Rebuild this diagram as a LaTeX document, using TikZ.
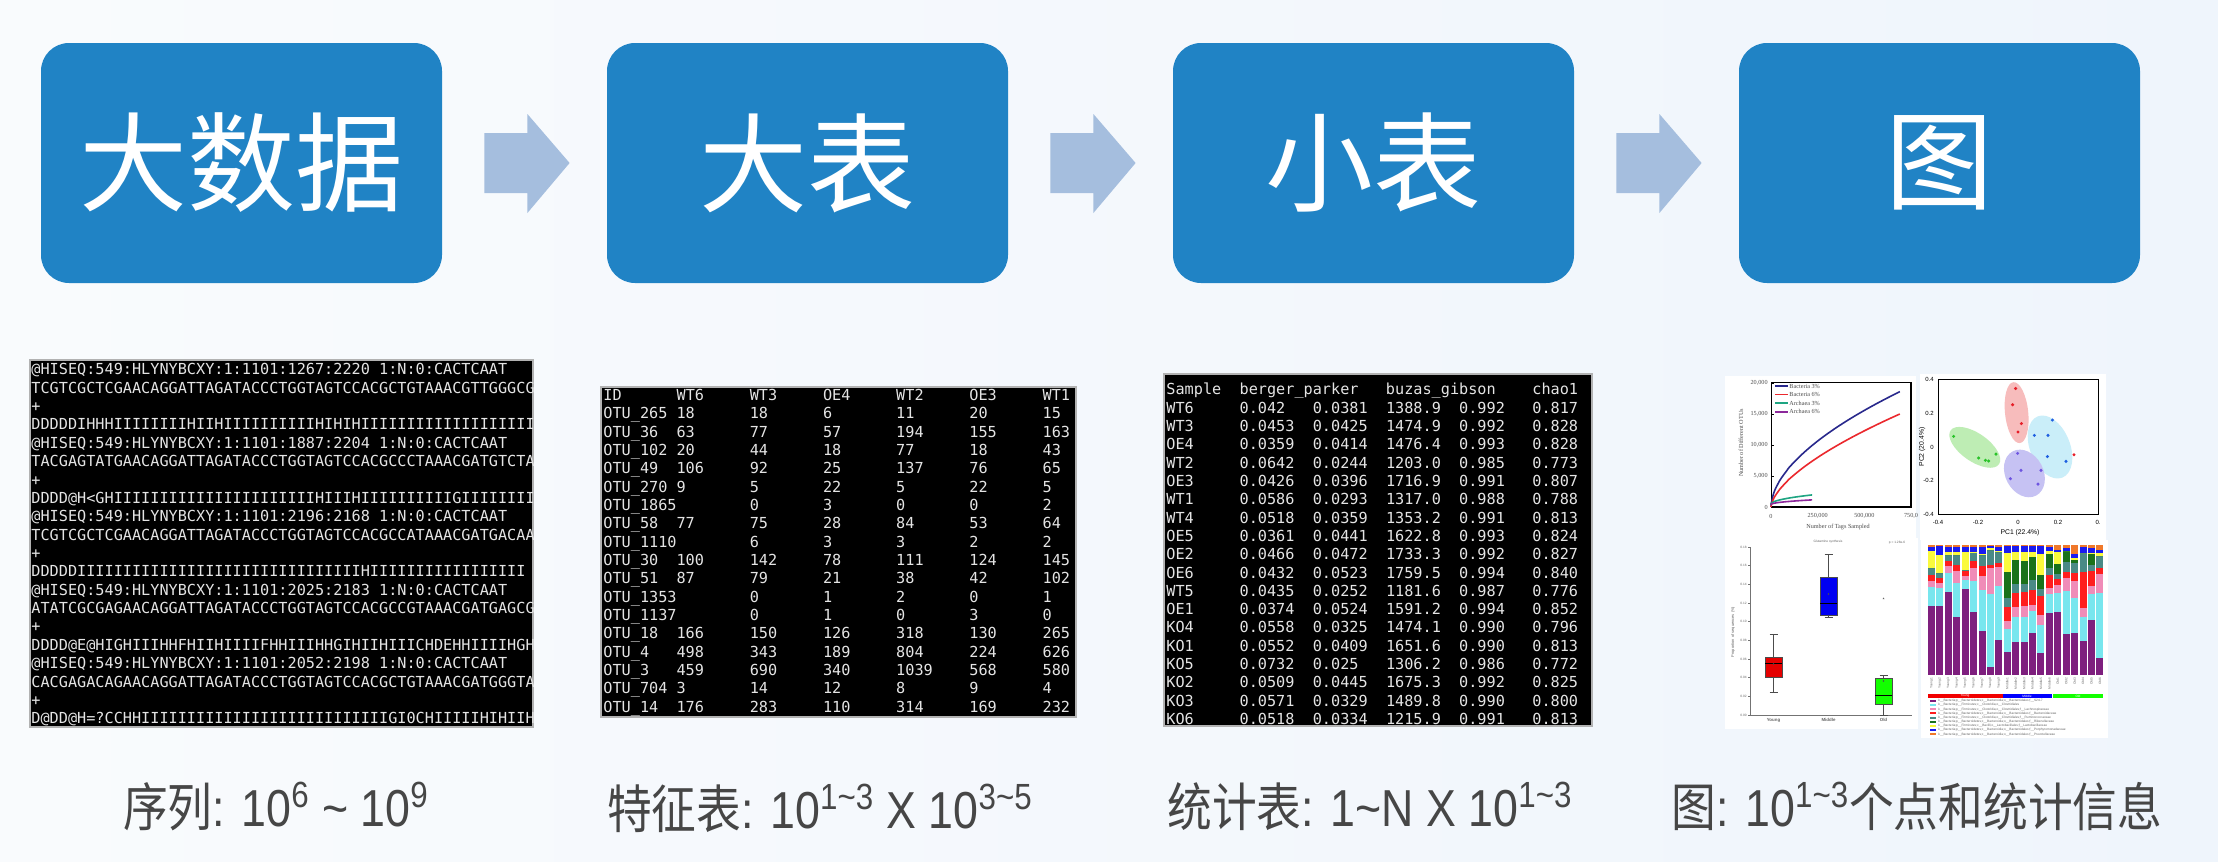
\documentclass[tikz,border=0pt]{standalone}
\usepackage{fontspec}
\setmainfont{Liberation Sans}
\newfontfamily\cjk{Noto Sans CJK SC}
\newfontfamily\labfont[FakeStretch=0.86]{Liberation Sans}
\newfontfamily\labcjk[FakeStretch=0.86]{Noto Sans CJK SC}
\newfontfamily\mono{DejaVu Sans Mono}
\newfontfamily\tms{Liberation Serif}
\usetikzlibrary{calc}
\definecolor{bgA}{RGB}{249,251,253}
\definecolor{bgB}{RGB}{239,245,252}
\definecolor{boxblue}{RGB}{32,131,197}
\definecolor{arrowblue}{RGB}{165,190,222}
\definecolor{labgray}{RGB}{70,70,70}
\definecolor{termtext}{RGB}{228,228,228}
\definecolor{cnavy}{RGB}{40,40,140}
\definecolor{cred}{RGB}{235,40,45}
\definecolor{cteal}{RGB}{30,165,130}
\definecolor{cviolet}{RGB}{140,40,155}
\definecolor{pRedF}{RGB}{247,188,188}
\definecolor{pGreenF}{RGB}{190,237,180}
\definecolor{pBlueF}{RGB}{202,238,249}
\definecolor{pPurF}{RGB}{198,194,243}
\definecolor{pRed}{RGB}{230,30,40}
\definecolor{pGreen}{RGB}{40,195,40}
\definecolor{pBlue}{RGB}{30,95,225}
\definecolor{pPur}{RGB}{110,85,225}
\definecolor{sPur}{RGB}{126,31,126}
\definecolor{sCyan}{RGB}{120,230,238}
\definecolor{sPink}{RGB}{240,140,184}
\definecolor{sRed}{RGB}{255,30,30}
\definecolor{sTeal}{RGB}{74,138,134}
\definecolor{sGreen}{RGB}{26,114,26}
\definecolor{sYel}{RGB}{250,250,60}
\definecolor{sBlue}{RGB}{26,26,240}
\definecolor{sOrange}{RGB}{240,120,42}
\newcommand\tc[1]{\makebox[36.6pt][l]{#1}}
\newcommand\barseg[4]{\fill[#1] (#2,{535+#3/3}) rectangle ({#2+7},{535+#4/3});}
\tikzset{
  bigbox/.style={fill=boxblue, rounded corners=14pt, minimum width=200.5pt, minimum height=120pt, inner sep=0pt,
    text=white, font=\cjk\fontsize{54pt}{60pt}\selectfont},
  flowarrow/.style={fill=arrowblue, draw=none},
  botlab/.style={anchor=base, inner sep=0pt, text=labgray, font=\labfont\fontsize{26pt}{30pt}\selectfont},
  term/.style={fill=black, draw=gray!60, line width=0.6pt},
  tline/.style={anchor=base west, inner sep=0pt, text=termtext, font=\mono\fontsize{7.6pt}{9pt}\selectfont},
  tiny/.style={inner sep=0pt, font=\fontsize{3pt}{3.5pt}\selectfont},
  tinyserif/.style={inner sep=0pt, font=\tms\fontsize{3.1pt}{3.5pt}\selectfont, text=black!70},
  micro/.style={inner sep=0pt, font=\fontsize{1.6pt}{1.8pt}\selectfont, text=black!60},
  panel/.style={fill=white, draw=none}
}
\begin{document}
\begin{tikzpicture}[x=0.5pt,y=-0.5pt]
\useasboundingbox (0,0) rectangle (2218,862);
\shade[left color=bgA, right color=bgB] (0,0) rectangle (2218,862);

% ---- top flow boxes
\node[bigbox] (b1) at (241.5,163) {大数据};
\node[bigbox] (b2) at (807.5,163) {大表};
\node[bigbox] (b3) at (1373.5,163) {小表};
\node[bigbox] (b4) at (1939.5,163) {图};
\foreach \a/\b in {b1/b2,b2/b3,b3/b4}{
  \fill[flowarrow] ($(\a.east)+(42,-30)$) -- ($(\a.east)+(85,-30)$) -- ($(\a.east)+(85,-49)$)
     -- ($(\b.west)+(-37,0)$) -- ($(\a.east)+(85,50)$) -- ($(\a.east)+(85,30)$) -- ($(\a.east)+(42,30)$) -- cycle;
}

% ---- terminal 1 : reads
\filldraw[term] (30,360) rectangle (533,727);
\begin{scope}
\clip (30,360) rectangle (533,727);
\foreach \s [count=\i from 0] in {
@HISEQ:549:HLYNYBCXY:1:1101:1267:2220 1:N:0:CACTCAAT,
TCGTCGCTCGAACAGGATTAGATACCCTGGTAGTCCACGCTGTAAACGTTGGGCG,
+,
DDDDDIHHHIIIIIIIIHIIHIIIIIIIIIIHIHIHIIIIIIIIIIIIIIIIIII,
@HISEQ:549:HLYNYBCXY:1:1101:1887:2204 1:N:0:CACTCAAT,
TACGAGTATGAACAGGATTAGATACCCTGGTAGTCCACGCCCTAAACGATGTCTA,
+,
DDDD@H<GHIIIIIIIIIIIIIIIIIIIIIIHIIIHIIIIIIIIIIGIIIIIIIIFH,
@HISEQ:549:HLYNYBCXY:1:1101:2196:2168 1:N:0:CACTCAAT,
TCGTCGCTCGAACAGGATTAGATACCCTGGTAGTCCACGCCATAAACGATGACAA,
+,
DDDDDIIIIIIIIIIIIIIIIIIIIIIIIIIIIIIIHIIIIIIIIIIIIIIIII,
@HISEQ:549:HLYNYBCXY:1:1101:2025:2183 1:N:0:CACTCAAT,
ATATCGCGAGAACAGGATTAGATACCCTGGTAGTCCACGCCGTAAACGATGAGCG,
+,
DDDD@E@HIGHIIIHHFHIIHIIIIFHHIIIHHGIHIIHIIICHDEHHIIIIHGH,
@HISEQ:549:HLYNYBCXY:1:1101:2052:2198 1:N:0:CACTCAAT,
CACGAGACAGAACAGGATTAGATACCCTGGTAGTCCACGCTGTAAACGATGGGTA,
+,
D@DD@H=?CCHHIIIIIIIIIIIIIIIIIIIIIIIIIIIGI0CHIIIIIHIHIIH@}
  \node[tline] at (31,{374.8+18.37*\i}) {\s};
\end{scope}

% ---- terminal 2 : OTU table
\filldraw[term] (601,387) rectangle (1076,717);
\foreach \a/\b/\c/\d/\e/\f/\g [count=\i from 0] in {
ID/WT6/WT3/OE4/WT2/OE3/WT1,
OTU\_265/18/18/6/11/20/15,
OTU\_36/63/77/57/194/155/163,
OTU\_102/20/44/18/77/18/43,
OTU\_49/106/92/25/137/76/65,
OTU\_270/9/5/22/5/22/5,
OTU\_1865/{}/0/3/0/0/2,
OTU\_58/77/75/28/84/53/64,
OTU\_1110/{}/6/3/3/2/2,
OTU\_30/100/142/78/111/124/145,
OTU\_51/87/79/21/38/42/102,
OTU\_1353/{}/0/1/2/0/1,
OTU\_1137/{}/0/1/0/3/0,
OTU\_18/166/150/126/318/130/265,
OTU\_4/498/343/189/804/224/626,
OTU\_3/459/690/340/1039/568/580,
OTU\_704/3/14/12/8/9/4,
OTU\_14/176/283/110/314/169/232}
  \node[tline] at (603,{400.5+18.33*\i}) {\tc{\a}\tc{\b}\tc{\c}\tc{\d}\tc{\e}\tc{\f}\tc{\g}};

% ---- terminal 3 : alpha diversity table
\filldraw[term] (1164,374) rectangle (1592,726);
\foreach \a/\b/\c/\d/\e/\f [count=\i from 0] in {
Sample/berger\_parker/{}/buzas\_gibson/{}/chao1,
WT6/0.042/0.0381/1388.9/0.992/0.817,
WT3/0.0453/0.0425/1474.9/0.992/0.828,
OE4/0.0359/0.0414/1476.4/0.993/0.828,
WT2/0.0642/0.0244/1203.0/0.985/0.773,
OE3/0.0426/0.0396/1716.9/0.991/0.807,
WT1/0.0586/0.0293/1317.0/0.988/0.788,
WT4/0.0518/0.0359/1353.2/0.991/0.813,
OE5/0.0361/0.0441/1622.8/0.993/0.824,
OE2/0.0466/0.0472/1733.3/0.992/0.827,
OE6/0.0432/0.0523/1759.5/0.994/0.840,
WT5/0.0435/0.0252/1181.6/0.987/0.776,
OE1/0.0374/0.0524/1591.2/0.994/0.852,
KO4/0.0558/0.0325/1474.1/0.990/0.796,
KO1/0.0552/0.0409/1651.6/0.990/0.813,
KO5/0.0732/0.025/1306.2/0.986/0.772,
KO2/0.0509/0.0445/1675.3/0.992/0.825,
KO3/0.0571/0.0329/1489.8/0.990/0.800,
KO6/0.0518/0.0334/1215.9/0.991/0.813}
  \node[tline] at (1166,{394.8+18.32*\i}) {\tc{\a}\tc{\b}\tc{\c}\tc{\d}\tc{\e}\tc{\f}};

% ---- plot panel backgrounds
\fill[panel] (1725,376) rectangle (1916,538);
\fill[panel] (1920,374) rectangle (2106,540);
\fill[panel] (1725,538) rectangle (1918,729);
\fill[panel] (1921,540) rectangle (2108,738);

% ---- rarefaction curves
\draw[line width=0.4pt] (1771,382) rectangle (1911,507);
\draw[line width=1pt] (1911,382) -- (1911,507) -- (1771,507);
\foreach \v/\t in {0/0,5/{5,000},10/{10,000},15/{15,000},20/{20,000}}{
  \draw[line width=0.3pt] (1771,{507-6.2*\v}) -- (1774,{507-6.2*\v});
  \node[tinyserif,anchor=east] at (1768,{507-6.2*\v}) {\t};
}
\foreach \k/\t in {0/0,250/{250,000},500/{500,000},750/{750,0}}{
  \node[tinyserif] at ({1771+0.1867*\k},516) {\t};
}
\node[tinyserif] at (1838,527) {Number of Tags Sampled};
\node[tinyserif,rotate=90] at (1741,443) {Number of Different OTUs};
\begin{scope}[shift={(1771,507)}, x=0.09335pt, y=3.1pt]
  \draw[cnavy, line width=0.8pt] (0,0) -- plot[domain=1:690, samples=60, smooth] (\x,{18.6*(\x/690)^0.55});
  \draw[cred, line width=0.8pt] (0,0) -- plot[domain=1:690, samples=60, smooth] (\x,{15*(\x/690)^0.62});
  \draw[cteal, line width=0.8pt] (0,0.3) -- plot[domain=1:220, samples=30, smooth] (\x,{0.45+1.5*(\x/220)^0.5});
  \draw[cviolet, line width=0.8pt] (0,0.3) -- plot[domain=1:220, samples=30, smooth] (\x,{0.4+0.75*(\x/220)^0.5});
\end{scope}
\foreach \c/\t [count=\i from 0] in {cnavy/{Bacteria 3\%},cred/{Bacteria 6\%},cteal/{Archaea 3\%},cviolet/{Archaea 6\%}}{
  \draw[\c, line width=0.8pt] (1775,{386+8.6*\i}) -- (1788,{386+8.6*\i});
  \node[tinyserif,anchor=west] at (1789,{386+8.6*\i}) {\t};
}

% ---- PCA
\begin{scope}[shift={(2018,447)}, x=100pt, y=84.25pt]
  \fill[pGreenF, rotate around={-35:(-0.216,-0.002)}] (-0.216,-0.002) ellipse [x radius=14.75pt, y radius=7pt];
  \fill[pRedF, rotate around={-84:(-0.007,0.204)}] (-0.007,0.204) ellipse [x radius=15.3pt, y radius=5.8pt];
  \fill[pBlueF, rotate around={-68:(0.16,0)}] (0.16,0) ellipse [x radius=16.5pt, y radius=10pt];
  \fill[pPurF, rotate around={-62:(0.032,-0.157)}] (0.032,-0.157) ellipse [x radius=12.5pt, y radius=9.5pt];
  \foreach \p in {(-0.012,0.347),(-0.027,0.251),(0.017,0.139),(0,0.089),(0.28,-0.046)} \fill[pRed] \p circle [radius=0.85pt];
  \foreach \p in {(-0.322,0.063),(-0.197,-0.065),(-0.163,-0.079),(-0.147,-0.083),(-0.11,-0.042)} \fill[pGreen] \p circle [radius=0.85pt];
  \foreach \p in {(0.172,0.16),(0.082,0.069),(0.15,0.069),(0.147,-0.057),(0.24,-0.085)} \fill[pBlue] \p circle [radius=0.85pt];
  \foreach \p in {(-0.002,-0.038),(0.015,-0.139),(-0.038,-0.188),(0.115,-0.139),(0.1,-0.22)} \fill[pPur] \p circle [radius=0.85pt];
  \draw[line width=0.4pt] (-0.4,-0.4) rectangle (0.4,0.4);
  \foreach \v/\t in {0.4/0.4,0.2/0.2,0/0,-0.2/-0.2,-0.4/-0.4}{
    \node[tiny,anchor=east] at (-0.42,\v) {\t};
  }
  \foreach \v/\t in {-0.4/-0.4,-0.2/-0.2,0/0,0.2/0.2,0.4/0.}{
    \node[tiny] at (\v,-0.445) {\t};
  }
\end{scope}
\node[tiny, font=\fontsize{3.4pt}{4pt}\selectfont] at (2020,533) {PC1 (22.4\%)};
\node[tiny, rotate=90, font=\fontsize{3.4pt}{4pt}\selectfont] at (1922,447) {PC2 (20.4\%)};

% ---- boxplot
\draw[black!55, line width=0.3pt] (1750,547) -- (1750,715) -- (1912,715);
\foreach \v [count=\i from 0] in {0.00,0.02,0.04,0.06,0.08,0.10,0.12,0.14,0.16,0.18}{
  \draw[black!55, line width=0.3pt] (1748,{715-18.67*\i}) -- (1750,{715-18.67*\i});
  \node[micro,anchor=east] at (1747,{715-18.67*\i}) {\v};
}
\node[micro, rotate=90, font=\fontsize{2pt}{2.4pt}\selectfont] at (1733,632) {Proportion of sequences (\%)};
\node[micro] at (1828,542) {Glutamine synthesis};
\node[micro] at (1897,543) {p = 1.28e-6};
\foreach \xc/\lo/\hi/\bt/\bb/\md/\mn/\c/\t in {1773.5/692/634/657/677/663/664/red!90!black/Young,
    1828.5/617/554/577/615/603/594/blue!95!black/Middle, 1883.5/715/675/678/704/695/681/green!90!lime/Old}{
  \draw[black!70, line width=0.4pt] (\xc,\hi) -- (\xc,\lo);
  \draw[black!70, line width=0.4pt] ({\xc-4},\hi) -- ({\xc+4},\hi);
  \draw[black!70, line width=0.4pt] ({\xc-4},\lo) -- ({\xc+4},\lo);
  \filldraw[fill=\c, draw=black!70, line width=0.4pt] ({\xc-8.5},\bt) rectangle ({\xc+8.5},\bb);
  \draw[black, line width=0.5pt] ({\xc-8.5},\md) -- ({\xc+8.5},\md);
  \fill[black!70] (\xc,\mn) circle [radius=0.4pt];
  \node[micro, font=\fontsize{2.2pt}{2.6pt}\selectfont\bfseries] at (\xc,720) {\t};
}
\fill[black!60] (1883.5,597.5) -- (1882.5,599.2) -- (1884.5,599.2) -- cycle;

% ---- stacked bar chart
\foreach \i/\P/\C/\K/\R/\T/\G/\Y/\B in {
 1/213/155/138/120/100/100/48/35, 2/213/160/145/128/115/115/60/33, 3/172/113/93/78/60/60/50/35,
 4/245/143/107/90/60/60/52/35, 5/163/135/123/108/105/105/52/35, 6/232/137/100/78/52/52/50/35,
 7/288/165/122/93/60/60/57/35, 8/397/178/98/90/45/45/40/33, 9/315/152/97/85/52/52/48/35,
 10/350/282/258/215/190/110/55/33, 11/320/245/215/175/148/75/50/33, 12/320/245/213/172/148/78/50/33,
 13/295/228/210/165/135/65/50/33, 14/355/270/240/183/162/120/58/33, 15/233/177/160/120/100/58/48/35,
 16/230/175/150/132/118/88/52/45, 17/298/168/128/110/80/48/48/40, 18/295/190/138/115/85/75/70/58,
 19/318/245/220/110/55/55/55/35, 20/255/178/152/108/90/58/55/40, 21/370/175/117/100/62/62/55/45}{
  \pgfmathsetmacro\xl{1928+(\i-1)*8.42}
  \barseg{sPur}{\xl}{420}{\P}
  \barseg{sCyan}{\xl}{\P}{\C}
  \barseg{sPink}{\xl}{\C}{\K}
  \barseg{sRed}{\xl}{\K}{\R}
  \barseg{sTeal}{\xl}{\R}{\T}
  \barseg{sGreen}{\xl}{\T}{\G}
  \barseg{sYel}{\xl}{\G}{\Y}
  \barseg{sBlue}{\xl}{\Y}{\B}
  \barseg{sOrange}{\xl}{\B}{30}
}
\foreach \n [count=\i from 0] in {Young1,Young2,Young3,Young4,Young5,Young6,Young7,Young8,Young9,
   Middle1,Middle2,Middle3,Middle4,Middle5,Middle6,Old1,Old2,Old3,Old4,Old5,Old6}{
  \node[micro, rotate=90, anchor=east] at ({1931.5+8.42*\i},677.5) {\n};
}
\fill[red!95!black] (1928,694) rectangle (2003,698);
\fill[blue] (2003,694) rectangle (2052,698);
\fill[green!90!lime] (2053,694) rectangle (2103,698);
\node[micro, text=white] at (1965,696) {Young};
\node[micro, text=white] at (2027,696) {Middle};
\node[micro, text=white] at (2078,696) {Old};
\foreach \c/\t [count=\i from 0] in {
 sPur/{k\_\_Bacteria;p\_\_Bacteroidetes;c\_\_Bacteroidia;o\_\_Bacteroidales;f\_\_S24-7},
 sCyan/{k\_\_Bacteria;p\_\_Firmicutes;c\_\_Clostridia;o\_\_Clostridiales},
 sPink/{k\_\_Bacteria;p\_\_Firmicutes;c\_\_Clostridia;o\_\_Clostridiales;f\_\_Lachnospiraceae},
 sRed/{k\_\_Bacteria;p\_\_Bacteroidetes;c\_\_Bacteroidia;o\_\_Bacteroidales;f\_\_Bacteroidaceae},
 sTeal/{k\_\_Bacteria;p\_\_Firmicutes;c\_\_Clostridia;o\_\_Clostridiales;f\_\_Ruminococcaceae},
 sGreen/{k\_\_Bacteria;p\_\_Bacteroidetes;c\_\_Bacteroidia;o\_\_Bacteroidales;f\_\_Rikenellaceae},
 sYel/{k\_\_Bacteria;p\_\_Firmicutes;c\_\_Bacilli;o\_\_Lactobacillales;f\_\_Lactobacillaceae},
 sBlue/{k\_\_Bacteria;p\_\_Bacteroidetes;c\_\_Bacteroidia;o\_\_Bacteroidales;f\_\_Porphyromonadaceae},
 sOrange/{k\_\_Bacteria;p\_\_Bacteroidetes;c\_\_Bacteroidia;o\_\_Bacteroidales;f\_\_Prevotellaceae}}{
  \fill[\c] (1930,{700+4.15*\i}) rectangle (1936,{702+4.15*\i});
  \node[micro, anchor=west] at (1938,{701+4.15*\i}) {\t};
}

% ---- bottom labels
\node[botlab] (lab1) at (276,826) {{\labcjk 序列}: 10\textsuperscript{6} \textasciitilde{} 10\textsuperscript{9}};
\node[botlab] (lab2) at (820,828) {{\labcjk 特征表}: 10\textsuperscript{1\textasciitilde 3} X 10\textsuperscript{3\textasciitilde 5}};
\node[botlab] (lab3) at (1370,826) {{\labcjk 统计表}: 1\textasciitilde N X 10\textsuperscript{1\textasciitilde 3}};
\node[botlab] (lab4) at (1917,826) {{\labcjk 图}: 10\textsuperscript{1\textasciitilde 3}{\labcjk 个点和统计信息}};
\end{tikzpicture}
\end{document}
